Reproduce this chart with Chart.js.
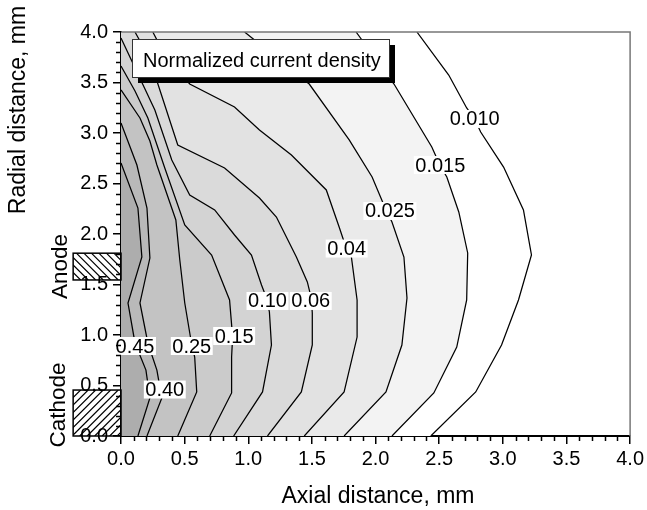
<!DOCTYPE html>
<html><head><meta charset="utf-8">
<script src="https://cdn.jsdelivr.net/npm/chart.js@4.4.1/dist/chart.umd.min.js"></script>
<style>html,body{margin:0;padding:0;background:#fff;}#wrap{width:647px;height:510px;}</style>
</head><body><div id="wrap"><canvas id="c" width="647" height="510"></canvas></div>
<script>
// ---- data (mm) ----
const levels = ['0.45','0.40','0.25','0.15','0.10','0.06','0.04','0.025','0.015','0.010'];
const bandColors = ['#adadad','#b9b9b9','#c3c3c3','#cbcbcb','#d3d3d3','#dadada','#e2e2e2','#eaeaea','#f3f3f3','#ffffff'];

const c045X = [0.133,0.227,0.196,0.110,0.055,0.164,0.133,0];
const c045Y = [0,0.376,0.653,0.921,1.317,1.772,2.257,2.703];
const c040X = [0.204,0.321,0.282,0.211,0.149,0.227,0.204,0.125,0];
const c040Y = [0,0.376,0.653,0.921,1.317,1.762,2.257,2.683,3.099];
const c025X = [0.446,0.595,0.579,0.556,0.501,0.462,0.431,0.282,0.227,0.149,0];
const c025Y = [0,0.436,0.782,0.901,1.317,1.743,2.139,2.683,2.921,3.149,3.426];
const c015X = [0.697,0.869,0.869,0.877,0.853,0.712,0.501,0.344,0.211,0.110,0];
const c015Y = [0,0.426,0.782,0.980,1.347,1.792,2.089,2.653,3.149,3.416,3.663];
const c010X = [0.885,1.112,1.182,1.166,1.143,1.104,1.025,0.892,0.736,0.540,0.399,0.266,0];
const c010Y = [0,0.436,0.901,1.228,1.366,1.495,1.792,1.990,2.238,2.386,2.733,3.228,3.941];
const c006X = [1.151,1.417,1.503,1.503,1.495,1.464,1.378,1.221,1.088,0.814,0.446,0.290,0.188,0.110];
const c006Y = [0,0.436,0.901,1.218,1.366,1.525,1.772,2.168,2.356,2.653,2.881,3.485,3.822,4.0];
const c004X = [1.440,1.753,1.855,1.855,1.808,1.769,1.714,1.613,1.339,1.088,0.892,0.540,0.344,0.250];
const c004Y = [0,0.436,0.980,1.347,1.792,1.861,2.069,2.436,2.782,3.030,3.257,3.485,3.772,4.0];
const c0025X = [1.753,2.082,2.207,2.247,2.223,2.129,2.082,1.973,1.793,1.479,0.971];
const c0025Y = [0,0.436,0.901,1.366,1.772,2.119,2.238,2.564,2.931,3.485,4.0];
const c0015X = [2.129,2.458,2.638,2.716,2.724,2.654,2.560,2.505,2.442,2.145,1.847];
const c0015Y = [0,0.426,0.881,1.347,1.812,2.218,2.564,2.683,2.861,3.485,4.0];
const c0010X = [2.434,2.787,2.990,3.123,3.225,3.162,3.006,2.826,2.779,2.716,2.575,2.325];
const c0010Y = [0,0.436,0.901,1.347,1.792,2.238,2.663,3.010,3.139,3.248,3.574,4.0];

const labelX = [0.110,0.344,0.556,0.889,1.151,1.491,1.773,2.113,2.509,2.779];
const labelY = [0.891,0.460,0.891,0.990,1.337,1.337,1.856,2.228,2.683,3.139];

const xTicks = [0,0.5,1,1.5,2,2.5,3,3.5,4];
const yTicks = [0,0.5,1,1.5,2,2.5,3,3.5,4];
const xMin = 0, xMax = 4, yMin = 0, yMax = 4;

const electrodeX = [-0.376, 0];
const anodeY = [1.545, 1.81];
const cathodeY = [0, 0.455];

const titleText = 'Normalized current density';
const xTitle = 'Axial distance, mm';
const yTitle = 'Radial distance, mm';
// ---------------------

const contours = [[c045X,c045Y],[c040X,c040Y],[c025X,c025Y],[c015X,c015Y],[c010X,c010Y],
  [c006X,c006Y],[c004X,c004Y],[c0025X,c0025Y],[c0015X,c0015Y],[c0010X,c0010Y]];

function regionLeftOf(X, Y) {
  const pts = [{x:xMin, y:yMin}];
  const n = X.length;
  if (X[n-1] > xMin) pts.push({x:xMin, y:yMax});
  for (let i = n-1; i >= 0; i--) pts.push({x:X[i], y:Y[i]});
  pts.push({x:xMax, y:yMin});
  return pts;
}
const FONT = '"Liberation Sans", Arial, Helvetica, sans-serif';
Chart.defaults.font.family = FONT;

const datasets = [];
contours.forEach(([X,Y], k) => {
  datasets.push({
    data: regionLeftOf(X,Y), showLine: true, fill: 'shape', backgroundColor: bandColors[k],
    borderWidth: 0, pointRadius: 0, order: 10 + k
  });
});
contours.forEach(([X,Y], k) => {
  datasets.push({
    data: X.map((v,i)=>({x:v, y:Y[i]})), showLine: true, fill: false,
    borderColor: '#000', borderWidth: 1.25, pointRadius: 0, order: 0
  });
});

function minorTicks(vals, step) { const r=[]; for (let v=vals[0]; v<=vals[vals.length-1]+1e-9; v+=step) { const q=Math.round(v*10)/10; if (Math.abs(q*2-Math.round(q*2))>1e-6) r.push(q);} return r; }

function hatch(ctx, x0, y0, x1, y1, dir) {
  ctx.save();
  ctx.beginPath(); ctx.rect(x0, y0, x1-x0, y1-y0); ctx.clip();
  ctx.strokeStyle = '#000'; ctx.lineWidth = 1.2;
  const h = y1 - y0, step = 7.5;
  ctx.beginPath();
  for (let s = x0 - h - step; s < x1 + h; s += step) {
    if (dir > 0) { ctx.moveTo(s, y1); ctx.lineTo(s + h, y0); }
    else { ctx.moveTo(s, y0); ctx.lineTo(s + h, y1); }
  }
  ctx.stroke();
  ctx.restore();
  ctx.save(); ctx.strokeStyle = '#000'; ctx.lineWidth = 1.5;
  ctx.strokeRect(x0, y0, x1-x0, y1-y0); ctx.restore();
}

const deco = {
  id: 'deco',
  afterDatasetsDraw(chart) {
    const {ctx, chartArea: a, scales: {x, y}} = chart;
    ctx.save();
    ctx.strokeStyle = '#777'; ctx.lineWidth = 1.5;
    ctx.beginPath(); ctx.moveTo(a.left, a.top); ctx.lineTo(a.right, a.top); ctx.lineTo(a.right, a.bottom); ctx.stroke();
    ctx.font = '20px ' + FONT; ctx.textAlign = 'center'; ctx.textBaseline = 'middle';
    for (let i = 0; i < levels.length; i++) {
      const px = x.getPixelForValue(labelX[i]), py = y.getPixelForValue(labelY[i]);
      const w = ctx.measureText(levels[i]).width + 3;
      ctx.fillStyle = '#fff'; ctx.fillRect(px - w/2, py - 9, w, 18);
      ctx.fillStyle = '#000'; ctx.fillText(levels[i], px, py + 1);
    }
    const bx = a.left + 11, by = a.top + 7, bw = 257, bh = 38;
    ctx.fillStyle = '#000'; ctx.fillRect(bx + 6, by + 6, bw, bh);
    ctx.fillStyle = '#fff'; ctx.fillRect(bx, by, bw, bh);
    ctx.strokeStyle = '#333'; ctx.lineWidth = 1; ctx.strokeRect(bx + 0.5, by + 0.5, bw, bh);
    ctx.fillStyle = '#000'; ctx.textAlign = 'left'; ctx.textBaseline = 'alphabetic';
    ctx.fillText(titleText, bx + 11, by + 28);
    ctx.restore();
  },
  afterDraw(chart) {
    const {ctx, chartArea: a, scales: {x, y}} = chart;
    ctx.save();
    ctx.strokeStyle = '#000'; ctx.lineWidth = 1.5;
    ctx.beginPath();
    minorTicks(xTicks, 0.1).forEach(v => { const p = Math.round(x.getPixelForValue(v)) + 0.5; ctx.moveTo(p, a.bottom); ctx.lineTo(p, a.bottom + 5); });
    minorTicks(yTicks, 0.1).forEach(v => { const p = Math.round(y.getPixelForValue(v)) + 0.5; ctx.moveTo(a.left, p); ctx.lineTo(a.left - 5, p); });
    ctx.stroke();
    const ex0 = x.getPixelForValue(electrodeX[0]), ex1 = x.getPixelForValue(electrodeX[1]);
    hatch(ctx, ex0, y.getPixelForValue(anodeY[1]), ex1, y.getPixelForValue(anodeY[0]), -1);
    hatch(ctx, ex0, y.getPixelForValue(cathodeY[1]), ex1, y.getPixelForValue(cathodeY[0]), 1);
    ctx.fillStyle = '#000'; ctx.textAlign = 'center'; ctx.textBaseline = 'alphabetic';
    ctx.font = '23px ' + FONT;
    ctx.fillText(xTitle, a.left + 257, 503);
    ctx.save(); ctx.translate(25, 110); ctx.rotate(-Math.PI/2); ctx.fillText(yTitle, 0, 0); ctx.restore();
    ctx.font = '22.5px ' + FONT;
    ctx.save(); ctx.translate(67, y.getPixelForValue((anodeY[0]+anodeY[1])/2)); ctx.rotate(-Math.PI/2); ctx.fillText('Anode', 0, 0); ctx.restore();
    ctx.save(); ctx.translate(65, 405); ctx.rotate(-Math.PI/2); ctx.fillText('Cathode', 0, 0); ctx.restore();
    ctx.restore();
  }
};

const axisCommon = (ticks) => ({
  type: 'linear', min: ticks[0], max: ticks[ticks.length-1],
  afterBuildTicks: s => { s.ticks = ticks.map(v => ({value: v})); },
  grid: { drawOnChartArea: false, drawTicks: true, tickLength: 8, color: '#000', lineWidth: 1.5 },
  border: { display: true, color: '#000', width: 2 },
});

new Chart(document.getElementById('c'), {
  type: 'scatter',
  data: { datasets },
  plugins: [deco],
  options: {
    responsive: false, animation: false, devicePixelRatio: 1,
    layout: { padding: { left: 0, right: 15, top: 32, bottom: 0 } },
    plugins: { legend: { display: false }, tooltip: { enabled: false } },
    scales: {
      x: Object.assign(axisCommon(xTicks), {
        position: 'bottom',
        ticks: { color: '#000', font: { size: 20 }, padding: 3, maxRotation: 0, callback: v => Number(v).toFixed(1) },
        afterFit: s => { s.height = 74; }
      }),
      y: Object.assign(axisCommon(yTicks), {
        position: 'left',
        ticks: { color: '#000', font: { size: 20 }, padding: 5, callback: v => Number(v).toFixed(1) },
        afterFit: s => { s.width = 121; }
      })
    }
  }
});
</script></body></html>
